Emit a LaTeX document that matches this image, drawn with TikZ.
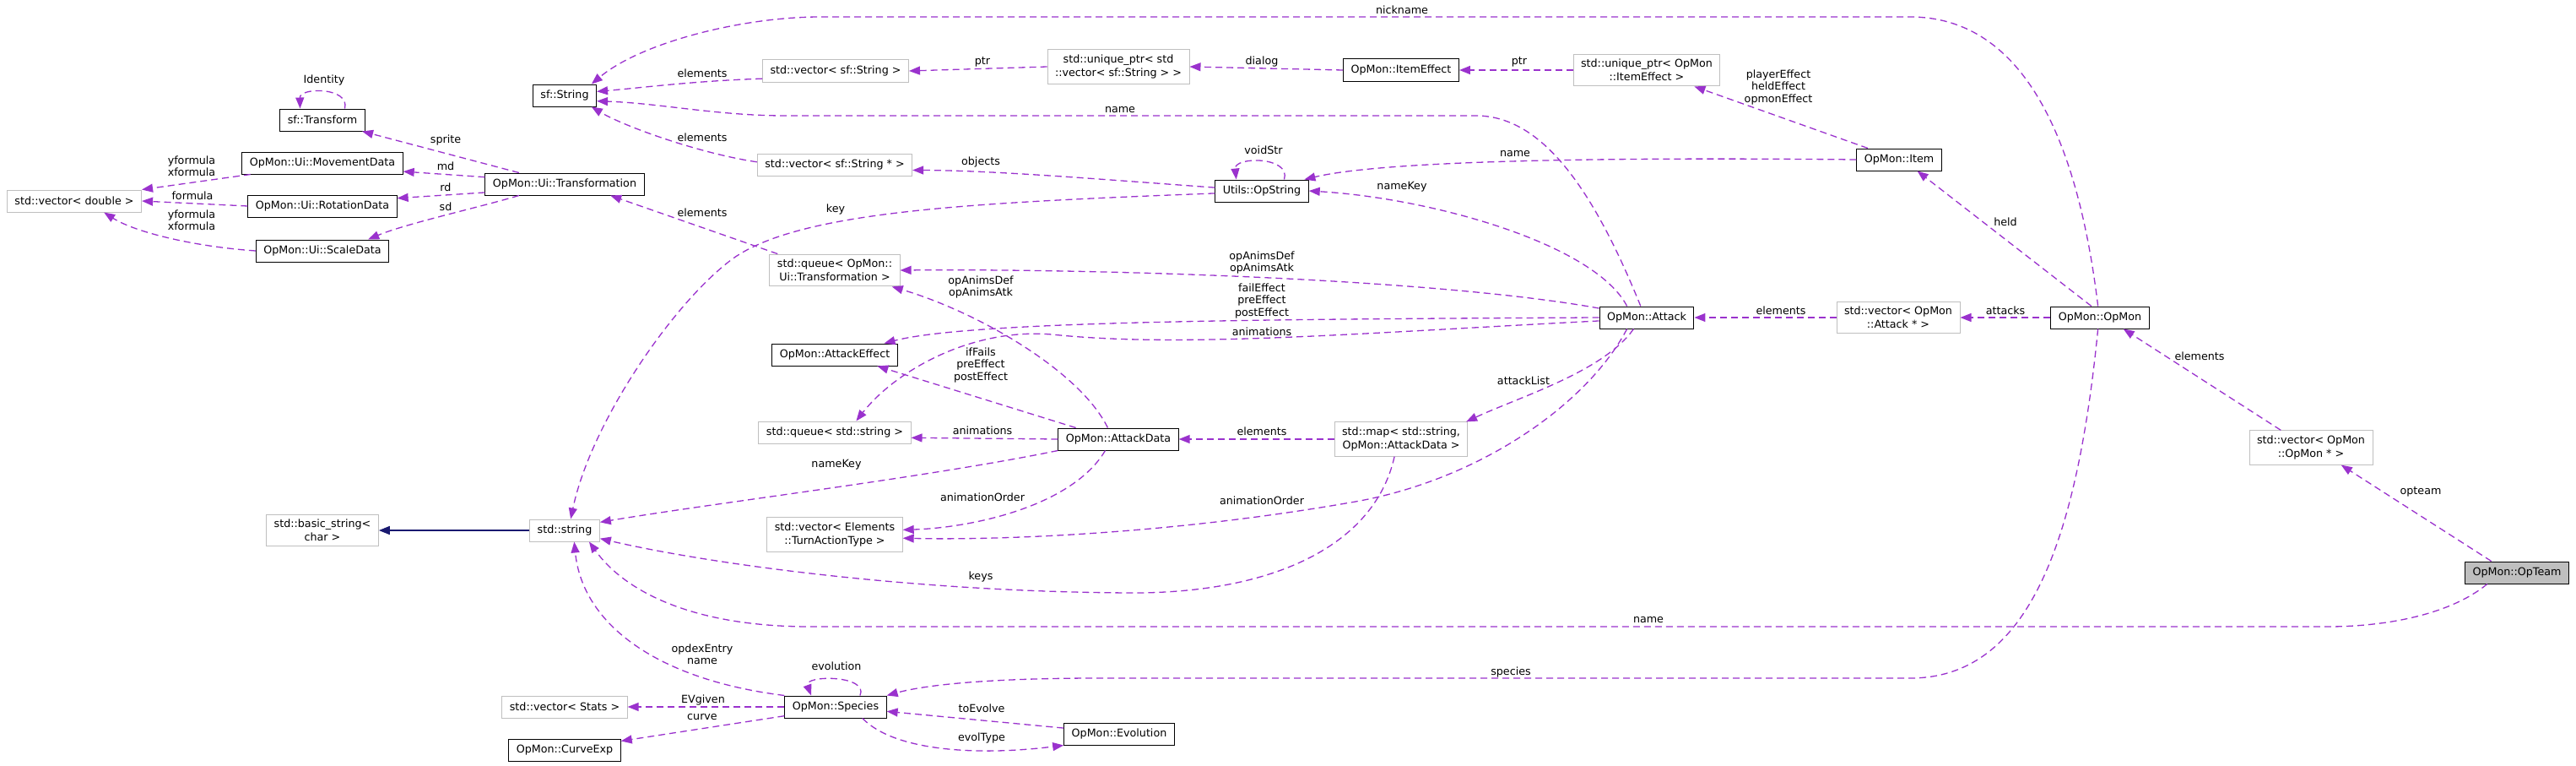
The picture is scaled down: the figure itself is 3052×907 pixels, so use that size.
\documentclass[tikz,border=0pt]{standalone}
\usepackage{fontspec}
\setmainfont{DejaVu Sans}
\usetikzlibrary{arrows.meta}
\definecolor{usecol}{RGB}{154,50,205}
\definecolor{inhcol}{RGB}{25,25,112}
\definecolor{undoc}{RGB}{191,191,191}
\tikzset{
  cls/.style={draw=black, line width=1pt, fill=white, inner xsep=9pt, inner ysep=6pt, minimum height=26pt, font=\fontsize{12.7}{16}\selectfont, align=center},
  ext/.style={cls, draw=undoc},
  usage/.style={draw=usecol, line width=1.3pt, dash pattern=on 8pt off 5pt, -{Triangle[length=13pt,width=10pt]}},
  inherit/.style={draw=inhcol, line width=1.5pt, -{Triangle[length=13pt,width=10pt]}},
  lbl/.style={inner sep=0pt, font=\fontsize{12.7}{14.5}\selectfont, align=center},
}
\begin{document}
\begin{tikzpicture}[x=1pt,y=1pt,yscale=-1,xscale=1]
\useasboundingbox (0,0) rectangle (3052,907);

%Classes
\node[cls] (sftransform) at (382,142) {sf::Transform};
\node[cls] (movedata) at (382,193) {OpMon::Ui::MovementData};
\node[ext] (vecdouble) at (88,238) {std::vector< double >};
\node[cls] (rotdata) at (382,244) {OpMon::Ui::RotationData};
\node[cls] (scaledata) at (382,297) {OpMon::Ui::ScaleData};
\node[ext] (basicstr) at (382,628) {std::basic\_string<\\char >};
\node[cls] (sfstring) at (669,113) {sf::String};
\node[cls] (uitransf) at (669,218) {OpMon::Ui::Transformation};
\node[ext] (stdstring) at (669,628) {std::string};
\node[ext] (vecstats) at (669,837) {std::vector< Stats >};
\node[cls] (curveexp) at (669,888) {OpMon::CurveExp};
\node[ext] (vecsfstr) at (990,84) {std::vector< sf::String >};
\node[ext] (vecsfstrptr) at (989,195) {std::vector< sf::String * >};
\node[ext] (queuetransf) at (989,320) {std::queue< OpMon::\\Ui::Transformation >};
\node[cls] (atkeffect) at (989,420) {OpMon::AttackEffect};
\node[ext] (queuestr) at (989,512) {std::queue< std::string >};
\node[ext] (vecturn) at (989,633) {std::vector< Elements\\::TurnActionType >};
\node[cls] (species) at (990,837) {OpMon::Species};
\node[ext] (uptrvec) at (1325,79) {std::unique\_ptr< std\\::vector< sf::String > >};
\node[cls] (opstring) at (1495,226) {Utils::OpString};
\node[cls] (atkdata) at (1325,520) {OpMon::AttackData};
\node[cls] (evolution) at (1326,869) {OpMon::Evolution};
\node[cls] (itemeffect) at (1660,83) {OpMon::ItemEffect};
\node[ext] (mapatk) at (1660,520) {std::map< std::string,\\OpMon::AttackData >};
\node[ext] (uptreffect) at (1951,83) {std::unique\_ptr< OpMon\\::ItemEffect >};
\node[cls] (attack) at (1951,376) {OpMon::Attack};
\node[cls] (item) at (2250,189) {OpMon::Item};
\node[ext] (vecatkptr) at (2249,376) {std::vector< OpMon\\::Attack * >};
\node[cls] (opmon) at (2488,376) {OpMon::OpMon};
\node[ext] (vecopmonptr) at (2738,530) {std::vector< OpMon\\::OpMon * >};
\node[cls, fill=undoc] (opteam) at (2982,678) {OpMon::OpTeam};

%Curve Lines
\draw[usage] (opmon.100) .. controls (2460,150) and (2390,20) .. (2263,20) -- (972,20) .. controls (880,20) and (760,50) .. (sfstring.23);
\draw[usage] (vecsfstr.186) .. controls (820,96) and (760,104) .. (sfstring.7);
\draw[usage] (attack.118) .. controls (1890,230) and (1830,138) .. (1750,137) -- (930,137) .. controls (850,137) and (780,122) .. (sfstring.-10);
\draw[usage] (vecsfstrptr.178) .. controls (830,182) and (740,150) .. (sfstring.-23);
\draw[usage] (opstring.176) .. controls (1300,212) and (1180,202) .. (vecsfstrptr.-4);
\draw[usage] (opstring.27) .. controls (1530,185) and (1462,185) .. (opstring.156);
\draw[usage] (item.west) .. controls (1900,186) and (1640,190) .. (opstring.15);
\draw[usage] (attack.150) .. controls (1890,290) and (1700,235) .. (opstring.east);
\draw[usage] (opstring.183) .. controls (1150,240) and (950,250) .. (870,305) .. controls (800,355) and (700,500) .. (stdstring.62);
\draw[usage] (uitransf.194) .. controls (570,245) and (480,265) .. (scaledata.14);
\draw[usage] (scaledata.west) .. controls (230,292) and (160,275) .. (vecdouble.-21);
\draw[usage] (sftransform.27) .. controls (415,103) and (355,103) .. (sftransform.153);
\draw[usage] (attack.169) .. controls (1700,330) and (1300,318) .. (queuetransf.east);
\draw[usage] (attack.west) .. controls (1500,378) and (1150,380) .. (atkeffect.13);
\draw[usage] (attack.184) .. controls (1600,395) and (1400,412) .. (1246,396) .. controls (1150,388) and (1060,440) .. (queuestr.28);
\draw[usage] (atkdata.133) .. controls (1280,440) and (1160,370) .. (queuetransf.-16);
\draw[usage] (atkdata.south west) .. controls (1100,565) and (850,595) .. (stdstring.13);
\draw[usage] (atkdata.221) .. controls (1270,600) and (1150,625) .. (vecturn.4);
\draw[usage] (attack.210) .. controls (1880,480) and (1750,570) .. (1600,595) .. controls (1400,630) and (1200,640) .. (vecturn.-3);
\draw[usage] (attack.221) .. controls (1900,440) and (1800,470) .. (mapatk.15);
\draw[usage] (mapatk.249) .. controls (1630,640) and (1520,700) .. (1350,702) .. controls (1100,702) and (850,670) .. (stdstring.-13);
\draw[usage] (opteam.201) .. controls (2900,730) and (2820,742) .. (2758,742) -- (960,742) .. controls (820,742) and (740,700) .. (stdstring.-25);
\draw[usage] (species.north west) .. controls (780,805) and (690,740) .. (stdstring.-50);
\draw[usage] (species.25) .. controls (1030,799) and (952,799) .. (species.155);
\draw[usage] (species.-23) .. controls (1060,890) and (1160,895) .. (evolution.south west);
\draw[usage] (opmon.260) .. controls (2460,650) and (2400,803) .. (2263,803) -- (1300,803) .. controls (1180,803) and (1100,810) .. (species.north east);

%Straight Lines
\draw[usage] (uptrvec.west) -- (vecsfstr.east);
\draw[usage] (itemeffect.west) -- (uptrvec.east);
\draw[usage] (uptreffect.west) -- (itemeffect.east);
\draw[usage] (item.160) -- (uptreffect.-19);
\draw[usage] (opmon.127) -- (item.-32);
\draw[usage] (uitransf.166) -- (sftransform.-16);
\draw[usage] (uitransf.175) -- (movedata.-6);
\draw[usage] (uitransf.186) -- (rotdata.6);
\draw[usage] (movedata.189) -- (vecdouble.north east);
\draw[usage] (rotdata.west) -- (vecdouble.east);
\draw[usage] (queuetransf.164) -- (uitransf.-14);
\draw[usage] (atkdata.165) -- (atkeffect.-15);
\draw[usage] (atkdata.west) -- (queuestr.-4);
\draw[usage] (mapatk.west) -- (atkdata.east);
\draw[usage] (species.west) -- (vecstats.east);
\draw[usage] (species.190) -- (curveexp.9);
\draw[usage] (evolution.174) -- (species.-5);
\draw[usage] (vecopmonptr.150) -- (opmon.-26);
\draw[usage] (opteam.156) -- (vecopmonptr.-30);
\draw[usage] (vecatkptr.west) -- (attack.east);
\draw[usage] (opmon.west) -- (vecatkptr.east);
\draw[inherit] (stdstring.west) -- (basicstr.east);

% Text Node
\node[lbl] (l-nickname) at (1661,12) {nickname};
\node[lbl] (l-elem1) at (832,87) {elements};
\node[lbl] (l-ptr1) at (1164,73) {ptr};
\node[lbl] (l-dialog) at (1495,73) {dialog};
\node[lbl] (l-ptr2) at (1800,73) {ptr};
\node[lbl] (l-itemfx) at (2107,103) {playerEffect\\heldEffect\\opmonEffect};
\node[lbl] (l-name1) at (1327,130) {name};
\node[lbl] (l-elem2) at (832,163) {elements};
\node[lbl] (l-objects) at (1162,192) {objects};
\node[lbl] (l-voidstr) at (1497,178) {voidStr};
\node[lbl] (l-name2) at (1795,182) {name};
\node[lbl] (l-namekey1) at (1661,221) {nameKey};
\node[lbl] (l-key) at (990,248) {key};
\node[lbl] (l-identity) at (384,95) {Identity};
\node[lbl] (l-sprite) at (528,166) {sprite};
\node[lbl] (l-md) at (528,197) {md};
\node[lbl] (l-rd) at (528,222) {rd};
\node[lbl] (l-sd) at (528,245) {sd};
\node[lbl] (l-yx1) at (227,197) {yformula\\xformula};
\node[lbl] (l-formula) at (228,232) {formula};
\node[lbl] (l-yx2) at (227,261) {yformula\\xformula};
\node[lbl] (l-elem3) at (832,252) {elements};
\node[lbl] (l-anims1) at (1495,311) {opAnimsDef\\opAnimsAtk};
\node[lbl] (l-effects1) at (1495,356) {failEffect\\preEffect\\postEffect};
\node[lbl] (l-animations1) at (1495,393) {animations};
\node[lbl] (l-anims2) at (1162,340) {opAnimsDef\\opAnimsAtk};
\node[lbl] (l-effects2) at (1162,432) {ifFails\\preEffect\\postEffect};
\node[lbl] (l-animations2) at (1164,510) {animations};
\node[lbl] (l-elem4) at (1495,511) {elements};
\node[lbl] (l-namekey2) at (991,550) {nameKey};
\node[lbl] (l-order1) at (1164,589) {animationOrder};
\node[lbl] (l-order2) at (1495,593) {animationOrder};
\node[lbl] (l-attacklist) at (1805,451) {attackList};
\node[lbl] (l-keys) at (1162,683) {keys};
\node[lbl] (l-name3) at (1953,734) {name};
\node[lbl] (l-opdex) at (832,775) {opdexEntry\\name};
\node[lbl] (l-evolution) at (991,789) {evolution};
\node[lbl] (l-evgiven) at (833,829) {EVgiven};
\node[lbl] (l-curve) at (832,849) {curve};
\node[lbl] (l-toevolve) at (1163,839) {toEvolve};
\node[lbl] (l-evoltype) at (1163,874) {evolType};
\node[lbl] (l-species) at (1790,796) {species};
\node[lbl] (l-elem5) at (2606,422) {elements};
\node[lbl] (l-opteam) at (2868,582) {opteam};
\node[lbl] (l-elem6) at (2110,368) {elements};
\node[lbl] (l-attacks) at (2376,368) {attacks};
\node[lbl] (l-held) at (2376,263) {held};
\end{tikzpicture}
\end{document}
